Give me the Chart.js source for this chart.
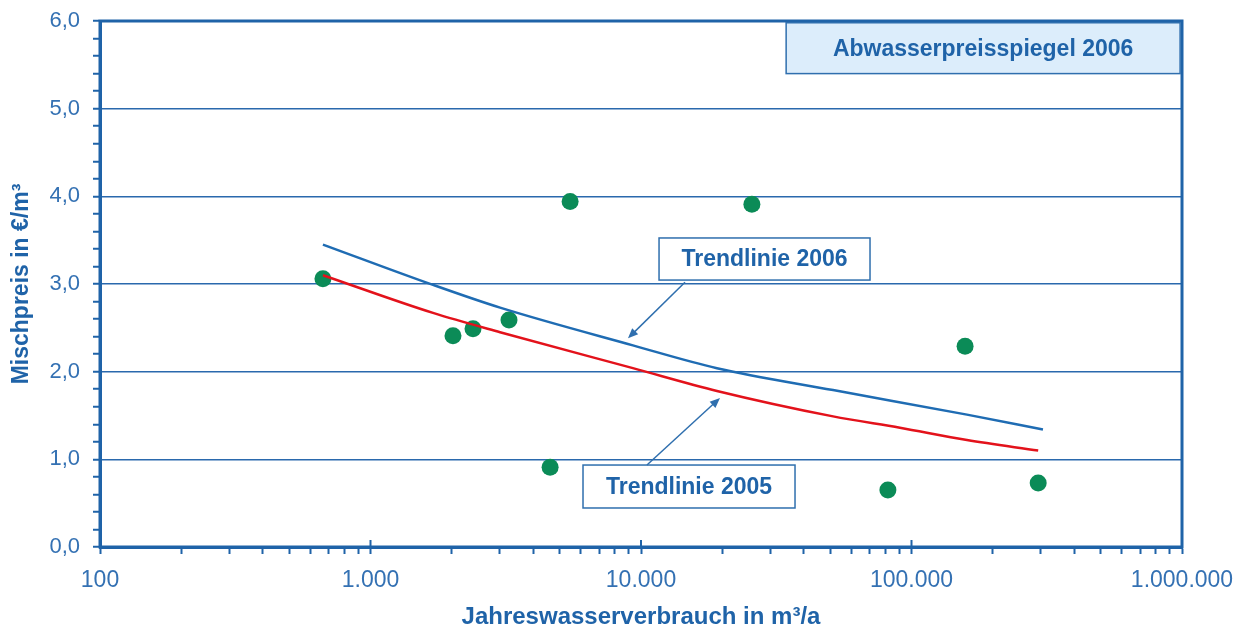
<!DOCTYPE html>
<html>
<head>
<meta charset="utf-8">
<script src="https://cdn.jsdelivr.net/npm/chart.js@4/dist/chart.umd.min.js"></script>
<style>
  html, body { margin: 0; padding: 0; background: #fff; }
</style>
</head>
<body>
<canvas id="myChart" width="1248" height="632"></canvas>
<script>
// Messpunkte (Jahreswasserverbrauch m3/a, Mischpreis EUR/m3)
var verbrauch = [667, 2018, 2393, 3251, 4613, 5470, 25700, 81800, 157800, 294000];
var mischpreis = [3.06, 2.41, 2.49, 2.59, 0.91, 3.94, 3.91, 0.65, 2.29, 0.73];

// Trendlinien
var trendX2006 = [667, 1702, 3013, 9333, 19090, 51290, 160300, 306200];
var trend2006 = [3.45, 2.99, 2.73, 2.30, 2.04, 1.79, 1.51, 1.34];
var trendX2005 = [667, 1702, 3013, 9333, 19090, 51290, 90600, 160300, 294000];
var trend2005 = [3.10, 2.67, 2.45, 2.04, 1.78, 1.49, 1.36, 1.22, 1.10];

var xTicks = [100, 1000, 10000, 100000, 1000000];
var yTicks = [0, 1, 2, 3, 4, 5, 6];

var blau = '#1f63a8';
var schrift = '#3471b3';
var fam = "'Liberation Sans', Arial, sans-serif";

function pts(xs, ys) {
  return xs.map(function (x, i) { return { x: x, y: ys[i] }; });
}
function istGanz(v) { return Math.abs(v - Math.round(v)) < 1e-6; }
function tausender(v) { return String(Math.round(v)).replace(/\B(?=(\d{3})+(?!\d))/g, '.'); }

// Beschriftungen im Diagramm (in Datenkoordinaten)
var boxen = [
  { text: 'Abwasserpreisspiegel 2006', x0: 34400, x1: 984000, y0: 5.40, y1: 5.98, fill: '#dcedfb' },
  { text: 'Trendlinie 2006', x0: 11660, x1: 70250, y0: 3.045, y1: 3.525, fill: '#ffffff' },
  { text: 'Trendlinie 2005', x0: 6104, x1: 37100, y0: 0.445, y1: 0.935, fill: '#ffffff' }
];
var pfeile = [
  { x0: 14540, y0: 3.02, x1: 8950, y1: 2.38 },
  { x0: 10520, y0: 0.935, x1: 19590, y1: 1.70 }
];

var rahmen = {
  id: 'rahmen',
  beforeDatasetsDraw: function (chart) {
    var c = chart.ctx, a = chart.chartArea, xs = chart.scales.x;
    c.save();
    c.strokeStyle = blau;
    c.lineWidth = 3;
    c.strokeRect(a.left, a.top, a.right - a.left, a.bottom - a.top);
    c.lineWidth = 2;
    xTicks.forEach(function (t) {
      var px = xs.getPixelForValue(t);
      c.beginPath(); c.moveTo(px, a.bottom); c.lineTo(px, a.bottom - 7); c.stroke();
    });
    c.restore();
  },
  afterDatasetsDraw: function (chart) {
    var c = chart.ctx, xs = chart.scales.x, ys = chart.scales.y;
    c.save();
    boxen.forEach(function (b) {
      var l = xs.getPixelForValue(b.x0), r = xs.getPixelForValue(b.x1);
      var t = ys.getPixelForValue(b.y1), u = ys.getPixelForValue(b.y0);
      c.fillStyle = b.fill;
      c.fillRect(l, t, r - l, u - t);
      c.strokeStyle = '#2f6fae';
      c.lineWidth = 1.5;
      c.strokeRect(l, t, r - l, u - t);
      c.fillStyle = blau;
      c.font = 'bold 23px ' + fam;
      c.textAlign = 'center';
      c.textBaseline = 'middle';
      c.fillText(b.text, (l + r) / 2, (t + u) / 2 + 1);
    });
    pfeile.forEach(function (p) {
      var ax = xs.getPixelForValue(p.x0), ay = ys.getPixelForValue(p.y0);
      var bx = xs.getPixelForValue(p.x1), by = ys.getPixelForValue(p.y1);
      var w = Math.atan2(by - ay, bx - ax), k = 11;
      c.strokeStyle = '#2f6fae';
      c.fillStyle = '#2f6fae';
      c.lineWidth = 1.5;
      c.beginPath(); c.moveTo(ax, ay); c.lineTo(bx - 6 * Math.cos(w), by - 6 * Math.sin(w)); c.stroke();
      c.beginPath();
      c.moveTo(bx, by);
      c.lineTo(bx - k * Math.cos(w - 0.4), by - k * Math.sin(w - 0.4));
      c.lineTo(bx - k * Math.cos(w + 0.4), by - k * Math.sin(w + 0.4));
      c.closePath(); c.fill();
    });
    c.restore();
  }
};

var ctx = document.getElementById('myChart').getContext('2d');
var myChart = new Chart(ctx, {
  type: 'scatter',
  data: {
    datasets: [
      {
        label: 'Trendlinie 2006',
        type: 'line',
        data: pts(trendX2006, trend2006),
        borderColor: '#1f6cb3',
        borderWidth: 2.5,
        pointRadius: 0,
        cubicInterpolationMode: 'monotone',
        fill: false
      },
      {
        label: 'Trendlinie 2005',
        type: 'line',
        data: pts(trendX2005, trend2005),
        borderColor: '#e3121b',
        borderWidth: 2.5,
        pointRadius: 0,
        cubicInterpolationMode: 'monotone',
        fill: false
      },
      {
        label: 'Mischpreis 2006',
        data: pts(verbrauch, mischpreis),
        backgroundColor: '#0b8b57',
        borderWidth: 0,
        pointRadius: 8.5,
        pointHoverRadius: 8.5
      }
    ]
  },
  options: {
    responsive: false,
    animation: false,
    devicePixelRatio: 1,
    layout: { padding: { top: 21, right: 66, left: 0, bottom: 0 } },
    plugins: { legend: { display: false }, tooltip: { enabled: false } },
    scales: {
      x: {
        type: 'logarithmic',
        min: 100,
        max: 1000000,
        afterBuildTicks: function (s) {
          var t = [];
          for (var i = 0; i < xTicks.length - 1; i++) {
            for (var m = 1; m < 10; m++) t.push({ value: xTicks[i] * m });
          }
          t.push({ value: xTicks[xTicks.length - 1] });
          s.ticks = t;
        },
        afterFit: function (s) { s.height = 85; },
        border: { display: true, color: blau, width: 3 },
        grid: { drawOnChartArea: false, drawTicks: true, tickLength: 7, color: blau, tickColor: blau, tickWidth: 2 },
        ticks: {
          autoSkip: false,
          maxRotation: 0,
          padding: 13,
          color: schrift,
          font: { family: fam, size: 23 },
          callback: function (v) { return xTicks.indexOf(v) >= 0 ? tausender(v) : ''; }
        },
        title: {
          display: true,
          text: 'Jahreswasserverbrauch in m³/a',
          color: blau,
          font: { family: fam, size: 24, weight: 'bold' },
          padding: { top: 0, bottom: 0 }
        }
      },
      y: {
        min: 0,
        max: 6,
        afterBuildTicks: function (s) {
          var t = [];
          for (var k = 0; k <= (yTicks.length - 1) * 5; k++) t.push({ value: Math.round(k * 2) / 10 });
          s.ticks = t;
        },
        afterFit: function (s) { s.width = 100; s.paddingTop = 0; s.paddingBottom = 0; },
        border: { display: true, color: blau, width: 3 },
        grid: {
          drawTicks: true,
          tickLength: 7,
          tickColor: blau,
          tickWidth: 2,
          lineWidth: 1.5,
          color: function (c) { return c.tick && istGanz(c.tick.value) ? '#2a69ad' : 'rgba(0,0,0,0)'; }
        },
        ticks: {
          autoSkip: false,
          padding: 13,
          color: schrift,
          font: { family: fam, size: 22 },
          callback: function (v) { return istGanz(v) ? v.toFixed(1).replace('.', ',') : ''; }
        },
        title: {
          display: true,
          text: 'Mischpreis in €/m³',
          color: blau,
          font: { family: fam, size: 23, weight: 'bold' },
          padding: { top: 8, bottom: 0 }
        }
      }
    }
  },
  plugins: [rahmen]
});
</script>
</body>
</html>
